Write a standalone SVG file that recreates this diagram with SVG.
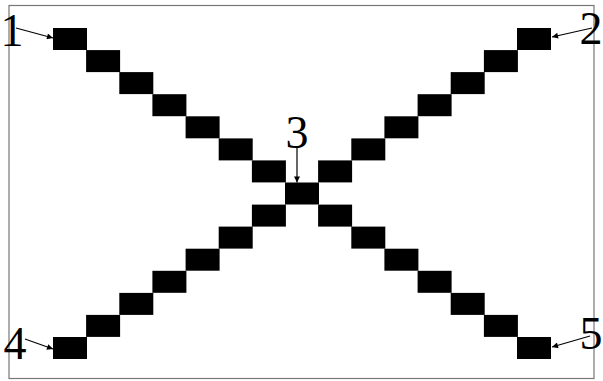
<svg xmlns="http://www.w3.org/2000/svg" width="603" height="381" viewBox="0 0 603 381">
<style>
.sq{fill:#000}
.lbl{font-family:"Liberation Serif","Times New Roman",serif;font-size:46px;fill:#000;text-anchor:middle}
.ar{stroke:#000;stroke-width:1.2;fill:none;marker-end:url(#ah)}
</style>
<defs>
<marker id="ah" viewBox="0 0 10 10" refX="10" refY="5" markerWidth="8" markerHeight="6" markerUnits="userSpaceOnUse" orient="auto">
<path d="M0,0 L10,5 L0,10 z" fill="#000"/>
</marker>
</defs>
<rect x="0" y="0" width="603" height="381" fill="#fff"/>
<rect id="frame" x="9" y="5.5" width="585" height="373" fill="none" stroke="#777" stroke-width="1.2"/>
<g id="diagonal-1-5">
<g id="n1"><rect class="sq" x="53" y="28" width="34" height="22"/></g>
<g id="a1"><rect class="sq" x="86.1" y="50.1" width="34" height="22"/></g>
<g id="a2"><rect class="sq" x="119.3" y="72.1" width="34" height="22"/></g>
<g id="a3"><rect class="sq" x="152.4" y="94.2" width="34" height="22"/></g>
<g id="a4"><rect class="sq" x="185.6" y="116.3" width="34" height="22"/></g>
<g id="a5"><rect class="sq" x="218.7" y="138.4" width="34" height="22"/></g>
<g id="a6"><rect class="sq" x="251.9" y="160.4" width="34" height="22"/></g>
<g id="n3"><rect class="sq" x="285" y="182.5" width="34" height="22"/></g>
<g id="a8"><rect class="sq" x="318.1" y="204.6" width="34" height="22"/></g>
<g id="a9"><rect class="sq" x="351.3" y="226.6" width="34" height="22"/></g>
<g id="a10"><rect class="sq" x="384.4" y="248.7" width="34" height="22"/></g>
<g id="a11"><rect class="sq" x="417.6" y="270.8" width="34" height="22"/></g>
<g id="a12"><rect class="sq" x="450.7" y="292.9" width="34" height="22"/></g>
<g id="a13"><rect class="sq" x="483.9" y="314.9" width="34" height="22"/></g>
<g id="n5"><rect class="sq" x="517" y="337" width="34" height="22"/></g>
</g>
<g id="diagonal-2-4">
<g id="n2"><rect class="sq" x="517" y="28" width="34" height="22"/></g>
<g id="b1"><rect class="sq" x="483.9" y="50.1" width="34" height="22"/></g>
<g id="b2"><rect class="sq" x="450.7" y="72.1" width="34" height="22"/></g>
<g id="b3"><rect class="sq" x="417.6" y="94.2" width="34" height="22"/></g>
<g id="b4"><rect class="sq" x="384.4" y="116.3" width="34" height="22"/></g>
<g id="b5"><rect class="sq" x="351.3" y="138.4" width="34" height="22"/></g>
<g id="b6"><rect class="sq" x="318.1" y="160.4" width="34" height="22"/></g>
<g id="b8"><rect class="sq" x="251.9" y="204.6" width="34" height="22"/></g>
<g id="b9"><rect class="sq" x="218.7" y="226.6" width="34" height="22"/></g>
<g id="b10"><rect class="sq" x="185.6" y="248.7" width="34" height="22"/></g>
<g id="b11"><rect class="sq" x="152.4" y="270.8" width="34" height="22"/></g>
<g id="b12"><rect class="sq" x="119.3" y="292.9" width="34" height="22"/></g>
<g id="b13"><rect class="sq" x="86.1" y="314.9" width="34" height="22"/></g>
<g id="n4"><rect class="sq" x="53" y="337" width="34" height="22"/></g>
</g>
<g id="labels">
<text class="lbl" x="12" y="46">1</text>
<text class="lbl" x="591" y="44">2</text>
<text class="lbl" x="297" y="148">3</text>
<text class="lbl" x="15" y="359">4</text>
<text class="lbl" x="591" y="349">5</text>
</g>
<g id="connectors">
<line class="ar" x1="16" y1="28" x2="53" y2="38"/>
<line class="ar" x1="592" y1="28" x2="552" y2="37"/>
<line class="ar" x1="297" y1="147" x2="297" y2="182.5"/>
<line class="ar" x1="25" y1="339" x2="53" y2="349"/>
<line class="ar" x1="590" y1="336" x2="552" y2="347"/>
</g>
</svg>
